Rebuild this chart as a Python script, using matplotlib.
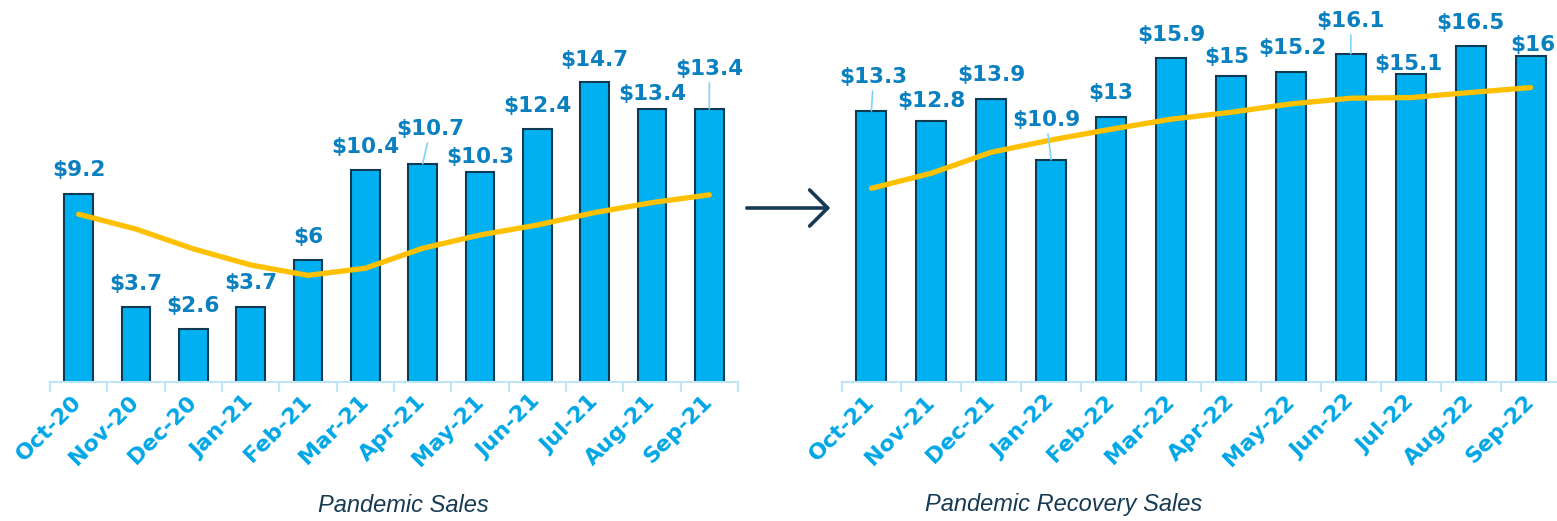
import numpy as np
import matplotlib
matplotlib.use("Agg")
import matplotlib.pyplot as plt
from matplotlib.patches import FancyArrowPatch

# data
months_1 = ['Oct-20', 'Nov-20', 'Dec-20', 'Jan-21', 'Feb-21', 'Mar-21',
            'Apr-21', 'May-21', 'Jun-21', 'Jul-21', 'Aug-21', 'Sep-21']
sales_1 = [9.2, 3.7, 2.6, 3.7, 6, 10.4, 10.7, 10.3, 12.4, 14.7, 13.4, 13.4]
trend_1 = [8.23, 7.5, 6.53, 5.74, 5.23, 5.58, 6.56, 7.21, 7.70, 8.31, 8.80, 9.18]

months_2 = ['Oct-21', 'Nov-21', 'Dec-21', 'Jan-22', 'Feb-22', 'Mar-22',
            'Apr-22', 'May-22', 'Jun-22', 'Jul-22', 'Aug-22', 'Sep-22']
sales_2 = [13.3, 12.8, 13.9, 10.9, 13, 15.9, 15, 15.2, 16.1, 15.1, 16.5, 16]
trend_2 = [9.50, 10.24, 11.27, 11.87, 12.40, 12.89, 13.23, 13.64, 13.92, 13.95, 14.20, 14.44]

# label offsets (pixels from bar top), leader line where True
offs_1 = [(0, 24), (0, 23), (0, 23), (0, 24), (0, 23), (0, 23),
          (8, 35), (0, 15), (0, 23), (0, 22), (0, 15), (0, 40)]
lead_1 = [False] * 6 + [True] + [False] * 4 + [True]
offs_2 = [(2, 34), (0, 20), (0, 24), (-5, 40), (0, 24), (0, 23),
          (-4, 19), (1, 24), (0, 33), (-2, 10), (0, 23), (2, 11)]
lead_2 = [True, False, False, True, False, False, False, False, True, False, False, False]

BAR = '#00b0f0'
EDGE = '#0e3a52'
GOLD = '#ffc000'
LBL = '#0b80c0'
TICK = '#00a6e6'
AXIS = '#bfe6f7'
NAVY = '#163a52'

W, H = 1557, 521
fig = plt.figure(figsize=(W / 100, H / 100), dpi=100)


def panel(rect, months, sales, trend, offs, lead, title, title_x):
    ax = fig.add_axes(rect)
    x = np.arange(len(months))
    ax.bar(x, sales, width=0.5, color=BAR, edgecolor=EDGE, linewidth=1.5, zorder=2)
    ax.plot(x, trend, color=GOLD, lw=3.8, solid_capstyle='round', zorder=3)
    for i, v in enumerate(sales):
        dx, dy = offs[i]
        txt = f'${v:g}'
        ap = None
        if lead[i]:
            ap = dict(arrowstyle='-', color='#7fd3f7', lw=1.2, shrinkA=1, shrinkB=0)
        ax.annotate(txt, xy=(i, v), xytext=(dx, dy), textcoords='offset pixels',
                    ha='center', va='center', fontsize=15.5, fontweight='bold',
                    color=LBL, arrowprops=ap, zorder=4)
    ax.set_xlim(-0.5, len(months) - 0.5)
    ax.set_ylim(0, 18)
    for s in ['top', 'right', 'left']:
        ax.spines[s].set_visible(False)
    ax.spines['bottom'].set_color(AXIS)
    ax.spines['bottom'].set_linewidth(1.5)
    ax.set_yticks([])
    ax.set_xticks(x)
    ax.set_xticks(np.arange(len(months) + 1) - 0.5, minor=True)
    ax.tick_params(axis='x', which='minor', length=7, width=1.5, color=AXIS, direction='out')
    ax.tick_params(axis='x', which='major', length=0, pad=12)
    ax.set_xticklabels(months, rotation=45, ha='right', va='center',
                       rotation_mode='anchor', fontsize=16, fontweight='bold',
                       color=TICK)
    fig.text(title_x / W, 1 - 505 / H, title, ha='center', va='center',
             fontsize=17, style='italic', color=NAVY,
             family=['Liberation Sans Narrow', 'Liberation Sans', 'DejaVu Sans'])
    return ax


panel([50 / W, 139 / H, 688 / W, 367 / H], months_1, sales_1, trend_1,
      offs_1, lead_1, 'Pandemic Sales', 403)
panel([841.5 / W, 139 / H, 719 / W, 367 / H], months_2, sales_2, trend_2,
      offs_2, lead_2, 'Pandemic Recovery Sales', 1064)

# arrow between panels
arr = FancyArrowPatch((744 / W, 1 - 208 / H), (833 / W, 1 - 208 / H),
                      transform=fig.transFigure,
                      arrowstyle='->,head_length=13,head_width=13',
                      mutation_scale=1, lw=2.6, color=NAVY,
                      capstyle='round', joinstyle='round')
fig.add_artist(arr)

fig.savefig('out.png', dpi=100)
